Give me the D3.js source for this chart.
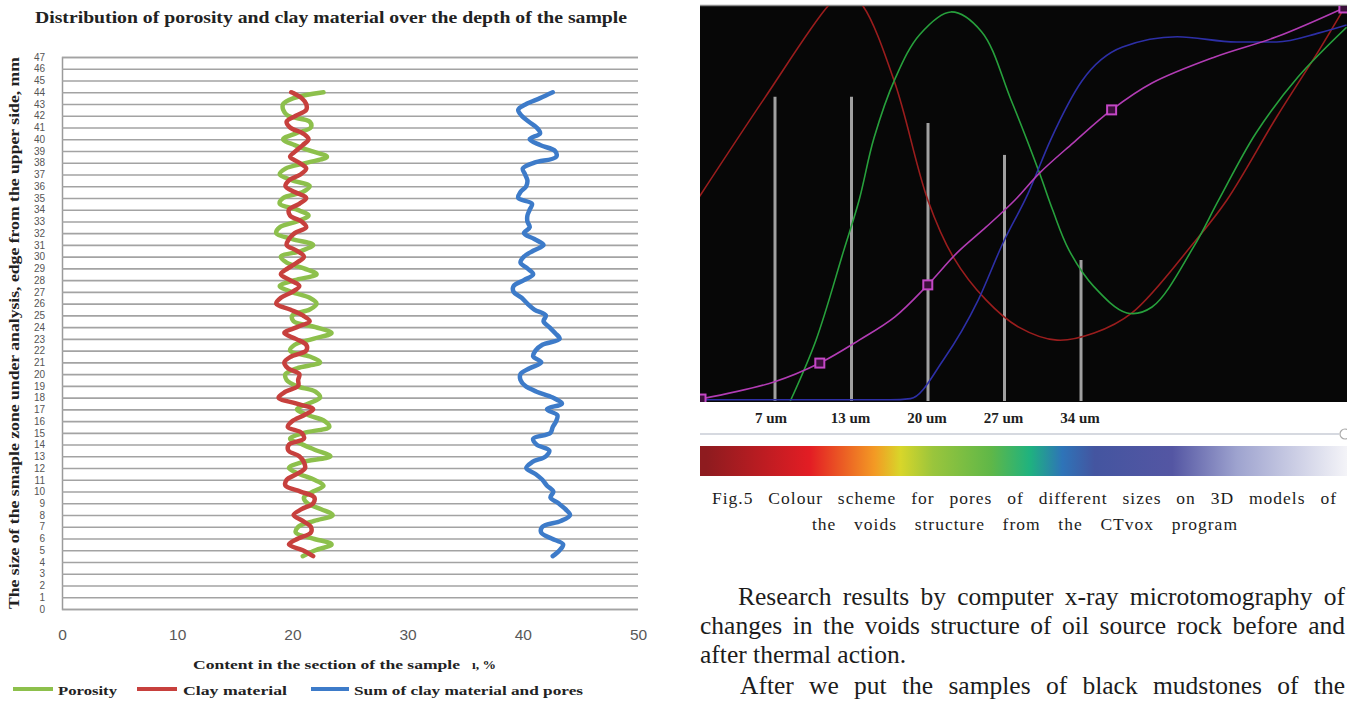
<!DOCTYPE html>
<html><head><meta charset="utf-8">
<script src="https://cdn.jsdelivr.net/npm/d3@7"></script>
<style>body{margin:0;background:#fff}svg{display:block}</style>
</head><body>
<svg id="c" width="1347" height="701"></svg>
<script>
// ---------- Left chart data ----------
const depth = [4.5,5,5.5,6,6.5,7,7.5,8,8.5,9,9.5,10,10.5,11,11.5,12,12.5,13,13.5,14,14.5,15,15.5,16,16.5,17,17.5,18,18.5,19,19.5,20,20.5,21,21.5,22,22.5,23,23.5,24,24.5,25,25.5,26,26.5,27,27.5,28,28.5,29,29.5,30,30.5,31,31.5,32,32.5,33,33.5,34,34.5,35,35.5,36,36.5,37,37.5,38,38.5,39,39.5,40,40.5,41,41.5,42,42.5,43,43.5,44];
const porosity = [20.9,22.0,23.4,21.8,20.3,20.5,21.9,23.5,22.5,21.3,21.0,21.8,22.7,21.9,20.6,19.7,20.8,23.3,22.1,20.9,19.8,21.0,23.2,22.8,21.4,20.4,21.4,22.4,22.0,20.3,19.5,19.4,20.4,22.4,21.5,19.8,20.2,21.8,23.4,22.0,20.1,20.0,21.5,22.1,21.5,19.9,18.9,20.2,22.1,21.0,19.5,19.0,20.8,21.8,20.0,18.6,18.9,20.4,21.4,20.4,18.9,19.2,20.9,21.5,20.0,18.9,19.4,21.3,23.0,21.6,20.2,19.2,20.3,21.6,21.5,19.6,19.2,19.2,20.1,22.7];
const clay = [21.8,20.9,19.7,20.5,21.6,21.6,20.9,20.1,20.8,21.8,21.9,20.7,19.4,19.5,20.4,21.1,21.0,20.6,19.65,19.7,21.0,20.8,19.6,20.0,21.0,21.8,20.3,18.8,19.4,20.5,20.5,20.6,19.6,19.3,19.9,21.2,21.2,20.3,19.3,20.4,21.5,20.9,19.8,18.6,19.0,20.0,20.6,19.8,19.0,19.6,20.4,21.0,20.4,19.5,19.7,20.2,21.2,20.8,19.8,19.7,20.6,21.2,20.2,19.4,19.7,20.7,21.2,20.6,19.8,20.3,20.9,21.4,20.9,19.8,19.5,20.3,21.2,21.2,20.8,19.9];
const sumClayPores = [42.6,43.2,43.5,42.5,41.6,41.7,43.3,44.1,43.7,43.1,42.4,42.65,42.1,41.7,41.1,40.3,40.8,42.0,42.3,41.2,40.9,42.4,42.6,42.9,43.0,42.1,43.4,42.6,41.2,40.2,39.8,39.8,40.6,41.6,40.9,41.1,41.7,43.2,42.8,42.3,41.8,42.0,41.0,40.4,39.9,39.2,39.2,40.1,40.9,40.4,39.8,40.1,40.9,41.8,41.0,40.1,40.6,40.4,40.4,40.6,40.8,39.6,39.8,40.3,40.4,40.2,40.0,41.0,42.9,42.8,41.5,40.6,41.5,41.2,40.5,39.9,39.6,40.3,41.5,42.6];
const xTicks = [0,10,20,30,40,50];
const yTicks = [0,1,2,3,4,5,6,7,8,9,10,11,12,13,14,15,16,17,18,19,20,21,22,23,24,25,26,27,28,29,30,31,32,33,34,35,36,37,38,39,40,41,42,43,44,45,46,47];
const seriesNames = ["Porosity","Clay material","Sum of clay material and pores"];

// ---------- Right figure data ----------
const redUm   = [0.05,6.0,11.85,13.45,15.05,17.97,20.98,23.3,26.3,29.3,32.8,36.2,39.66,45.3,48.35,52.9,56.8,59.3];
const redVal  = [51.6,76.5,100,104,100,80.5,50.9,36.5,25.6,18.7,15.4,17.2,22.3,40,50.9,71.9,88.9,100.5];
const greenUm = [8.4,10.75,13.3,14.7,16.05,17.97,20.25,23.1,25.9,28.6,31.2,32.4,33.9,36.2,39.2,41.5,45.3,47.6,51.0,54.85,59.3];
const greenVal= [0,15.4,38.2,50.9,66.5,81.5,92.8,98.5,93.5,76.2,57.7,48.4,38.2,28.9,22.3,23.8,39,50.9,67.8,82,94.6];
const blueUm  = [0,17.5,19.4,22.4,25.6,27.86,30.15,32.2,35.08,38.8,43.8,49.2,52.9,56.8,59.3];
const blueVal = [0.3,0.3,0.6,10.4,25.6,40,52.5,66,81,89.6,92.2,90.9,90.9,93.2,95.2];
const magUm   = [0.23,6.9,11.1,14.7,17.97,20.98,23.65,26.3,28.96,31.2,34.26,37.8,41.5,47.25,52.9,59.05];
const magVal  = [0.5,4.8,9.6,15.4,21.3,29.4,37.5,44,50.9,57.7,65.3,73.7,80.5,87.1,92.2,99.5];
const magMarkers = [0,2,5,11,15];
const barUm  = [7,14,21,28,35];
const barVal = [77,77,70.4,62.3,35.7];
const barLabels = ["7 um","13 um","20 um","27 um","34 um"];
const gradColors = ["#8e1b1f","#e31d24","#f39a24","#d8d62a","#9ac53c","#5fb748","#1fb27f","#2e74b8","#4455a0","#5456a3","#9ea3cf","#f4f4f8"];
const gradStops  = [0.01,0.17,0.27,0.31,0.36,0.45,0.51,0.56,0.61,0.73,0.83,1.0];

const SERIF = '"Liberation Serif","DejaVu Serif",serif';
const SANS = '"Liberation Sans","DejaVu Sans",sans-serif';
const svg = d3.select('#c');

// ================= LEFT CHART =================
const x = d3.scaleLinear().domain([0,50]).range([62,638]);
const y = d3.scaleLinear().domain([0,47]).range([609,57]);

svg.append('text').attr('x',35).attr('y',23).attr('textLength',592).attr('lengthAdjust','spacingAndGlyphs')
  .style('font-family',SERIF).style('font-weight','bold').style('font-size','17px').attr('fill','#222')
  .text('Distribution of porosity and clay material over the depth of the sample');

const gy = svg.append('g').attr('transform','translate(62,0)')
  .call(d3.axisLeft(y).tickValues(yTicks).tickSize(-576).tickPadding(17).tickFormat(d3.format('d')));
gy.select('.domain').attr('stroke','#9a9a9a').attr('stroke-width',1.5);
gy.selectAll('.tick line').attr('stroke','#a3a3a3').attr('stroke-width',1.6);
gy.selectAll('.tick text').attr('fill','#555').style('font-family','"Liberation Sans Narrow","Liberation Sans",sans-serif').style('font-size','10px');

const gx = svg.append('g').attr('transform','translate(0,609)')
  .call(d3.axisBottom(x).tickValues(xTicks).tickSize(0).tickPadding(20));
gx.select('.domain').remove();
gx.selectAll('.tick text').attr('fill','#595959').style('font-family',SANS).style('font-size','15.5px');

const pts = (vals) => depth.map((d,i)=>({d, v: vals[i]}));
const line = d3.line().x(p=>x(p.v)).y(p=>y(p.d)).curve(d3.curveCatmullRom.alpha(0.5));
const colors = ['#8dc04c','#c7403d','#3d7bc9'];
[porosity, clay, sumClayPores].forEach((vals,i)=>{
  svg.append('path').datum(pts(vals)).attr('d',line).attr('fill','none')
    .attr('stroke',colors[i]).attr('stroke-width',4.5).attr('stroke-linejoin','round').attr('stroke-linecap','round');
});

svg.append('text').attr('transform','translate(19,333) rotate(-90)').attr('text-anchor','middle')
  .attr('textLength',552).attr('lengthAdjust','spacingAndGlyphs')
  .style('font-family',SERIF).style('font-weight','bold').style('font-size','14.5px').attr('fill','#222')
  .text('The size of the smaple zone under analysis, edge from the upper side, mm');

svg.append('text').attr('x',193).attr('y',669).attr('textLength',267).attr('lengthAdjust','spacingAndGlyphs')
  .style('font-family',SERIF).style('font-weight','bold').style('font-size','13.5px').attr('fill','#222')
  .text('Content in the section of the sample');
svg.append('text').attr('x',472).attr('y',669)
  .style('font-family',SERIF).style('font-weight','bold').style('font-size','13.5px').attr('fill','#222')
  .text('ı, %');

const leg = [{x1:13,x2:53,tx:58,w:59},{x1:137,x2:177,tx:183,w:104},{x1:311,x2:349,tx:354,w:229}];
leg.forEach((l,i)=>{
  svg.append('line').attr('x1',l.x1).attr('x2',l.x2).attr('y1',689).attr('y2',689).attr('stroke',colors[i]).attr('stroke-width',4);
  svg.append('text').attr('x',l.tx).attr('y',695).attr('textLength',l.w).attr('lengthAdjust','spacingAndGlyphs')
    .style('font-family',SERIF).style('font-weight','bold').style('font-size','13.5px').attr('fill','#222').text(seriesNames[i]);
});

// ================= RIGHT FIGURE =================
const xR = d3.scaleLinear().domain([0,59.2]).range([698.5,1345.5]);
const yR = d3.scaleLinear().domain([0,100]).range([401,6]);

svg.append('rect').attr('x',700).attr('y',6).attr('width',647).attr('height',396).attr('fill','#070707');
svg.append('line').attr('x1',700).attr('x2',1347).attr('y1',5.5).attr('y2',5.5).attr('stroke','#8a8a8a').attr('stroke-width',1.5);
svg.append('clipPath').attr('id','pc').append('rect').attr('x',700).attr('y',6).attr('width',647).attr('height',396);
const pg = svg.append('g').attr('clip-path','url(#pc)');

barUm.forEach((u,i)=>{
  pg.append('line').attr('x1',xR(u)).attr('x2',xR(u)).attr('y1',yR(0)).attr('y2',yR(barVal[i]))
    .attr('stroke','#a0a0a0').attr('stroke-width',3);
});

const zip = (a,b)=>a.map((v,i)=>[v,b[i]]);
const lineR = d3.line().x(p=>xR(p[0])).y(p=>yR(p[1])).curve(d3.curveCatmullRom.alpha(0.5));
const lineB = d3.line().x(p=>xR(p[0])).y(p=>yR(p[1])).curve(d3.curveMonotoneX);
[[redUm,redVal,'#9a1d1d',lineR],[greenUm,greenVal,'#27a03c',lineR],[blueUm,blueVal,'#2d2fa6',lineB],[magUm,magVal,'#b23cb4',lineR]].forEach(s=>{
  pg.append('path').datum(zip(s[0],s[1])).attr('d',s[3]).attr('fill','none').attr('stroke',s[2]).attr('stroke-width',1.6);
});
magMarkers.forEach(i=>{
  pg.append('rect').attr('x',xR(magUm[i])-4.5).attr('y',yR(magVal[i])-4.5).attr('width',9).attr('height',9)
    .attr('fill','#3a0f3a').attr('stroke','#c447c6').attr('stroke-width',2);
});

barUm.forEach((u,i)=>{
  svg.append('text').attr('x',xR(u)-(i===0?4:1)).attr('y',423).attr('text-anchor','middle')
    .style('font-family',SERIF).style('font-weight','bold').style('font-size','15px').attr('fill','#1e1e1e').text(barLabels[i]);
});
svg.append('line').attr('x1',700).attr('x2',1339).attr('y1',434).attr('y2',434).attr('stroke','#c9cdd6').attr('stroke-width',1.5);
svg.append('circle').attr('cx',1345).attr('cy',434).attr('r',5).attr('fill','#fff').attr('stroke','#aaa').attr('stroke-width',1.2);

const grad = svg.append('defs').append('linearGradient').attr('id','cg').attr('x1','0%').attr('x2','100%');
gradStops.forEach((s,i)=>grad.append('stop').attr('offset',s).attr('stop-color',gradColors[i]));
svg.append('rect').attr('x',700).attr('y',446).attr('width',647).attr('height',30).attr('fill','url(#cg)');

function justify(words, x0, x1, yy, size, ls){
  const els = words.map(w=>svg.append('text').attr('y',yy).style('font-family',SERIF).style('font-size',size+'px')
    .style('letter-spacing',(ls||0)+'px').attr('fill','#1c1c1c').text(w));
  const ws = els.map(e=>e.node().getComputedTextLength());
  const gap = (x1-x0-d3.sum(ws))/(words.length-1);
  let cx = x0;
  els.forEach((e,i)=>{e.attr('x',cx); cx += ws[i]+gap;});
}
justify('Fig.5 Colour scheme for pores of different sizes on 3D models of'.split(' '),712,1337,504,17.5,1.0);
justify('the voids structure from the CTvox program'.split(' '),812,1238,530,17.5,1.0);
justify('Research results by computer x-ray microtomography of'.split(' '),738,1345,605,25.5);
justify('changes in the voids structure of oil source rock before and'.split(' '),700,1345,634,25.5);
svg.append('text').attr('x',700).attr('y',663).style('font-family',SERIF).style('font-size','25.5px').attr('fill','#1c1c1c').text('after thermal action.');
justify('After we put the samples of black mudstones of the'.split(' '),740,1345,694,25.5);
</script>
</body></html>
